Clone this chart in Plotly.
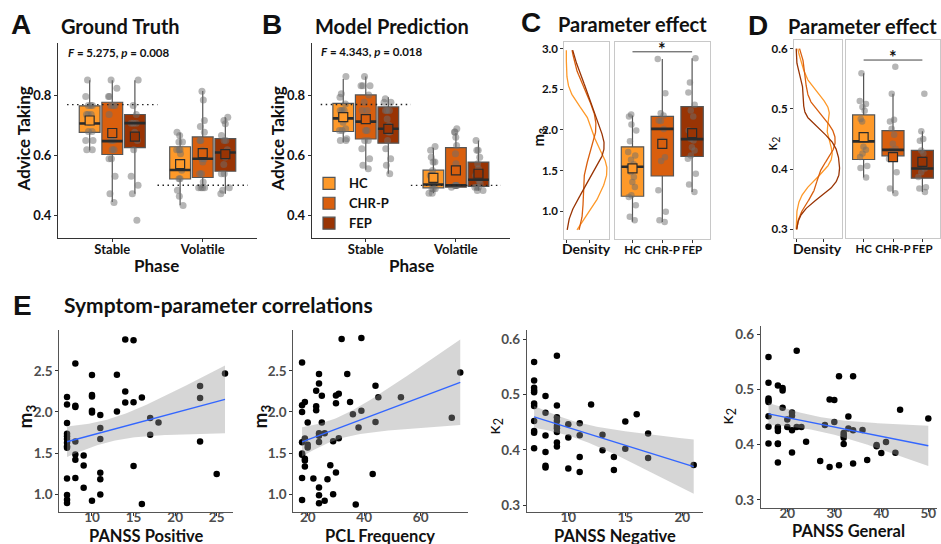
import numpy as np
import plotly.graph_objects as go

W, H = 941, 544
FONT = "Lato"
INK = "#111111"
AXC = "#333333"
BORDER = "#C8C8C8"

groups = ["HC", "CHR-P", "FEP"]
group_colors = ["#FE9929", "#D95F0E", "#993404"]
phases = ["Stable", "Volatile"]

# ---------------- Panel A: Ground Truth (per group: [Stable, Volatile]) ----------------
a_q1 = {"HC": [0.677, 0.521], "CHR-P": [0.603, 0.526], "FEP": [0.626, 0.547]}
a_median = {"HC": [0.707, 0.551], "CHR-P": [0.648, 0.589], "FEP": [0.708, 0.610]}
a_q3 = {"HC": [0.766, 0.629], "CHR-P": [0.778, 0.662], "FEP": [0.737, 0.656]}
a_low = {"HC": [0.617, 0.433], "CHR-P": [0.444, 0.491], "FEP": [0.472, 0.472]}
a_high = {"HC": [0.852, 0.676], "CHR-P": [0.852, 0.816], "FEP": [0.852, 0.728]}
a_mean = {"HC": [0.717, 0.571], "CHR-P": [0.675, 0.608], "FEP": [0.663, 0.604]}
a_points = {
    "HC": [[0.853, 0.797, 0.767, 0.767, 0.767, 0.737, 0.737, 0.737, 0.71, 0.68, 0.68, 0.65, 0.65, 0.619, 0.619],
           [0.678, 0.667, 0.645, 0.645, 0.619, 0.619, 0.619, 0.606, 0.55, 0.522, 0.522, 0.483, 0.463, 0.432]],
    "CHR-P": [[0.853, 0.825, 0.797, 0.797, 0.767, 0.767, 0.767, 0.737, 0.65, 0.65, 0.619, 0.619, 0.589, 0.589, 0.53, 0.472, 0.442],
              [0.815, 0.786, 0.717, 0.697, 0.678, 0.65, 0.65, 0.617, 0.589, 0.589, 0.578, 0.539, 0.539, 0.511, 0.492, 0.492, 0.492, 0.492]],
    "FEP": [[0.853, 0.767, 0.737, 0.708, 0.708, 0.708, 0.678, 0.65, 0.619, 0.53, 0.5, 0.472, 0.383],
            [0.728, 0.717, 0.706, 0.667, 0.65, 0.65, 0.619, 0.594, 0.57, 0.539, 0.539, 0.492, 0.483, 0.472]],
}
a_stat_text = "<i>F</i> = 5.275, <i>p</i> = 0.008"

# ---------------- Panel B: Model Prediction ----------------
b_q1 = {"HC": [0.680, 0.492], "CHR-P": [0.655, 0.494], "FEP": [0.641, 0.497]}
b_median = {"HC": [0.724, 0.503], "CHR-P": [0.713, 0.500], "FEP": [0.689, 0.519]}
b_q3 = {"HC": [0.774, 0.551], "CHR-P": [0.802, 0.626], "FEP": [0.762, 0.578]}
b_low = {"HC": [0.644, 0.474], "CHR-P": [0.552, 0.488], "FEP": [0.539, 0.483]}
b_high = {"HC": [0.855, 0.626], "CHR-P": [0.864, 0.675], "FEP": [0.794, 0.650]}
b_mean = {"HC": [0.728, 0.525], "CHR-P": [0.721, 0.550], "FEP": [0.689, 0.539]}
b_points = {
    "HC": [[0.864, 0.806, 0.794, 0.772, 0.75, 0.75, 0.75, 0.733, 0.722, 0.711, 0.689, 0.683, 0.683, 0.656, 0.65, 0.65],
           [0.63, 0.617, 0.594, 0.578, 0.578, 0.55, 0.533, 0.533, 0.506, 0.506, 0.489, 0.489, 0.489, 0.474, 0.474]],
    "CHR-P": [[0.864, 0.833, 0.833, 0.833, 0.802, 0.778, 0.75, 0.75, 0.717, 0.683, 0.683, 0.65, 0.65, 0.622, 0.589, 0.567, 0.556],
              [0.689, 0.678, 0.678, 0.661, 0.633, 0.606, 0.572, 0.55, 0.5, 0.5, 0.5, 0.5, 0.5, 0.494]],
    "FEP": [[0.789, 0.778, 0.778, 0.75, 0.75, 0.75, 0.722, 0.7, 0.678, 0.678, 0.65, 0.622, 0.589, 0.567, 0.539],
            [0.65, 0.617, 0.617, 0.594, 0.572, 0.556, 0.533, 0.533, 0.517, 0.506, 0.494, 0.494, 0.494, 0.483, 0.483]],
}
b_stat_text = "<i>F</i> = 4.343, <i>p</i> = 0.018"

# true reward probabilities per phase (dotted reference lines)
ref_levels = [0.77, 0.50]

# ---------------- Panel C: m3 per group ----------------
c_q1 = [1.184, 1.433, 1.673]
c_median = [1.547, 2.012, 1.886]
c_q3 = [1.792, 2.167, 2.286]
c_low = [0.870, 0.869, 1.237]
c_high = [2.176, 2.870, 2.882]
c_mean = [1.527, 1.829, 1.959]
c_points = {
    "HC": [2.188, 2.164, 2.065, 1.992, 1.861, 1.727, 1.686, 1.633, 1.576, 1.543, 1.482, 1.42, 1.359, 1.298, 1.196, 1.176, 1.074, 0.931, 0.89],
    "CHR-P": [2.87, 2.449, 2.204, 2.176, 2.114, 2.11, 2.012, 1.869, 1.665, 1.616, 1.257, 0.992, 0.89, 0.869],
    "FEP": [2.882, 2.584, 2.461, 2.31, 2.237, 2.164, 1.992, 1.89, 1.869, 1.788, 1.747, 1.686, 1.645, 1.461, 1.33, 1.237],
}
c_density_span = [0.77, 2.98]
c_sig = 2.96

# ---------------- Panel D: kappa2 per group ----------------
d_q1 = [0.416, 0.422, 0.385]
d_median = [0.446, 0.432, 0.401]
d_q3 = [0.490, 0.464, 0.431]
d_low = [0.386, 0.360, 0.362]
d_high = [0.559, 0.525, 0.463]
d_mean = [0.453, 0.420, 0.412]
d_points = {
    "HC": [0.559, 0.513, 0.508, 0.503, 0.497, 0.483, 0.479, 0.453, 0.437, 0.432, 0.426, 0.42, 0.405, 0.402, 0.386],
    "CHR-P": [0.57, 0.525, 0.482, 0.479, 0.467, 0.457, 0.442, 0.434, 0.431, 0.417, 0.395, 0.368, 0.36],
    "FEP": [0.525, 0.463, 0.45, 0.447, 0.431, 0.426, 0.413, 0.401, 0.395, 0.387, 0.37, 0.368, 0.362],
}
d_density_span = [0.30, 0.60]
d_sig = 0.581

# ---------------- Panel E: symptom-parameter correlations ----------------
e1_x = [7] * 13 + [8] * 7 + [9] * 3 + [10] * 6 + [11] * 6 + [13] * 2 + [14] * 3 + [15] * 3 + [16] * 2 + [17] * 2 + [18] + [23] * 3 + [25] + [26]
e1_y = [2.18, 2.09, 1.865, 1.736, 1.704, 1.672, 1.624, 1.583, 1.564, 1.19, 0.989, 0.932, 0.892,
        2.589, 2.074, 2.06, 1.64, 1.483, 1.42, 1.197,
        1.47, 1.35, 1.077,
        2.448, 2.207, 2.187, 2.014, 1.993, 0.92,
        1.962, 1.805, 1.672, 1.262, 1.182, 0.997,
        2.452, 2.005,
        2.88, 2.247, 2.114,
        2.87, 2.118, 1.342,
        2.174, 0.88,
        1.926, 1.724,
        1.873,
        2.315, 2.17, 1.64,
        1.245,
        2.468]

e2_x = [18, 18, 18, 18, 18, 18, 18, 18, 19, 19, 19, 19, 19, 20, 20, 20, 22, 23, 23, 23,
        24, 24, 24, 24, 24, 24, 24, 24, 25, 25, 26, 26, 27, 28, 29, 29, 30, 30, 30, 31, 31,
        32, 34, 35, 36, 38, 37, 39, 39, 43, 44, 44, 45, 53, 71, 74]
e2_y = [2.6, 2.08, 2.0, 1.63, 1.495, 1.48, 1.198, 0.93, 2.12, 1.678, 1.43, 1.41, 1.337, 1.872, 1.6, 1.568, 1.19, 2.257, 2.07, 2.02,
        2.46, 2.347, 1.742, 1.709, 1.636, 1.081, 0.988, 0.89, 2.196, 1.872, 1.742, 0.92, 1.183, 1.353, 1.645, 0.998, 2.107, 2.2, 1.264, 2.22, 1.68,
        2.886, 2.46, 2.12, 1.973, 1.811, 0.875, 2.9, 2.013, 1.247, 2.318, 1.878, 2.177, 2.177, 1.928, 2.48]

e3_x = [7] * 11 + [8] * 6 + [9] * 9 + [10] * 3 + [11] * 4 + [12] + [13] * 2 + [14] * 2 + [15] * 2 + [16] + [17] * 2 + [21]
e3_y = [0.5586, 0.525, 0.512, 0.507, 0.504, 0.4835, 0.479, 0.452, 0.434, 0.431, 0.403,
        0.497, 0.467, 0.426, 0.396, 0.371, 0.368,
        0.57, 0.48, 0.459, 0.452, 0.443, 0.439, 0.432, 0.413, 0.406,
        0.446, 0.422, 0.366,
        0.448, 0.4265, 0.387, 0.36,
        0.482,
        0.427, 0.399,
        0.387, 0.3635,
        0.451, 0.402,
        0.464,
        0.4296, 0.385,
        0.3725]

e4_x = [16] * 8 + [18] * 7 + [19] * 3 + [20] * 2 + [21] * 4 + [22] * 2 + [23] + [24] + [27] + [28] + [29] * 2 + [30] * 2 + [31] * 2 + [32] * 4 + [33] * 2 + [34] * 3 + [36] + [37] + [39] * 2 + [40] + [41] + [43] + [44] + [50]
e4_y = [0.5585, 0.5117, 0.4834, 0.48, 0.477, 0.4515, 0.4323, 0.4022,
        0.5068, 0.432, 0.429, 0.4245, 0.402, 0.401, 0.3674,
        0.5026, 0.498, 0.4666,
        0.4455, 0.432,
        0.458, 0.452, 0.426, 0.3855,
        0.57, 0.432,
        0.432,
        0.4053,
        0.3703,
        0.4353,
        0.4816, 0.3596,
        0.4805, 0.4407,
        0.5236, 0.3626,
        0.421, 0.4167, 0.4125, 0.401,
        0.4508, 0.429,
        0.5236, 0.426, 0.3657,
        0.4264,
        0.3722,
        0.3993, 0.397,
        0.3847,
        0.4046,
        0.3853,
        0.463,
        0.4473]

e_xlabels = ["PANSS Positive", "PCL Frequency", "PANSS Negative", "PANSS General"]
e_ylabels = ["m<sub>3</sub>", "m<sub>3</sub>", "κ<sub>2</sub>", "κ<sub>2</sub>"]


# ---------------- helpers ----------------
def xd(p0, p1):
    return [p0 / W, p1 / W]


def yd(top, bottom):
    return [1 - bottom / H, 1 - top / H]


def px(x):
    return x / W


def py(y):
    return 1 - y / H


fig = go.Figure()

BOX_LINE = "#555555"
MED_LINE = "#2b2b2b"
PT_COLOR = "rgba(110,110,110,0.5)"


def add_boxes(xa, ya, pos, q1, med, q3, lo, hi, pts, color, name, width, legend, msize, jitter):
    fig.add_trace(go.Box(
        x=pos, q1=q1, median=med, q3=q3, lowerfence=lo, upperfence=hi,
        width=width, fillcolor=color, line=dict(color=BOX_LINE, width=1.2),
        whiskerwidth=0, boxpoints=False, name=name, legendgroup=name,
        showlegend=legend, xaxis=xa, yaxis=ya, hoverinfo="skip"))
    # median bar drawn thicker
    mx, my = [], []
    for p, m in zip(pos, med):
        mx += [p - width / 2, p + width / 2, None]
        my += [m, m, None]
    fig.add_trace(go.Scatter(x=mx, y=my, mode="lines", line=dict(color=MED_LINE, width=2.6),
                             showlegend=False, xaxis=xa, yaxis=ya, hoverinfo="skip"))
    # jittered raw points
    px_all, py_all = [], []
    for p, vals in zip(pos, pts):
        px_all += [p] * len(vals)
        py_all += list(vals)
    fig.add_trace(go.Box(
        x=px_all, y=py_all, width=width, boxpoints="all", jitter=jitter, pointpos=0,
        fillcolor="rgba(0,0,0,0)", line=dict(color="rgba(0,0,0,0)", width=0),
        whiskerwidth=0, marker=dict(color=PT_COLOR, size=msize, line=dict(width=0)),
        showlegend=False, xaxis=xa, yaxis=ya, hoverinfo="skip"))


mean_traces = []
dodge = 0.25
bw_ab = 0.23
for panel, (xa, ya, q1, med, q3, lo, hi, mean, pts) in enumerate([
        ("x", "y", a_q1, a_median, a_q3, a_low, a_high, a_mean, a_points),
        ("x2", "y2", b_q1, b_median, b_q3, b_low, b_high, b_mean, b_points)]):
    for gi, g in enumerate(groups):
        pos = [k + 1 + (gi - 1) * dodge for k in range(len(phases))]
        add_boxes(xa, ya, pos, q1[g], med[g], q3[g], lo[g], hi[g], pts[g],
                  group_colors[gi], g, bw_ab, panel == 1, 7, 0.5)
        mean_traces.append((xa, ya, pos, mean[g], group_colors[gi]))
    # dotted reference lines, one per phase
    rx, ry = [], []
    for k, lvl in enumerate(ref_levels):
        rx += [k + 0.5, k + 1.5, None]
        ry += [lvl, lvl, None]
    fig.add_trace(go.Scatter(x=rx, y=ry, mode="lines", line=dict(color="#222222", width=1.4, dash="1.5px,3.5px"),
                             showlegend=False, xaxis=xa, yaxis=ya, hoverinfo="skip"))

bw_cd = 0.75
for (xa, ya, q1, med, q3, lo, hi, mean, pts) in [
        ("x4", "y4", c_q1, c_median, c_q3, c_low, c_high, c_mean, c_points),
        ("x6", "y6", d_q1, d_median, d_q3, d_low, d_high, d_mean, d_points)]:
    for gi, g in enumerate(groups):
        pos = [gi + 1]
        add_boxes(xa, ya, pos, [q1[gi]], [med[gi]], [q3[gi]], [lo[gi]], [hi[gi]], [pts[g]],
                  group_colors[gi], g, bw_cd, False, 6.5, 0.45)
        mean_traces.append((xa, ya, pos, [mean[gi]], group_colors[gi]))

for xa, ya, pos, m, col in mean_traces:
    fig.add_trace(go.Scatter(x=pos, y=m, mode="markers",
                             marker=dict(symbol="square", size=9, color=col, line=dict(color="#2b2b2b", width=1.2)),
                             showlegend=False, xaxis=xa, yaxis=ya, hoverinfo="skip"))

# significance bars
for xa, ya, lvl in [("x4", "y4", c_sig), ("x6", "y6", d_sig)]:
    fig.add_trace(go.Scatter(x=[1, 3], y=[lvl, lvl], mode="lines", line=dict(color="#444444", width=1),
                             showlegend=False, xaxis=xa, yaxis=ya, hoverinfo="skip"))


# marginal densities: gaussian kernel density (bw.nrd0), like ggplot2 geom_density
def nrd0(v):
    v = np.asarray(v, float)
    sd = v.std(ddof=1)
    iqr = np.subtract(*np.percentile(v, [75, 25]))
    return 0.9 * min(sd, iqr / 1.34) * len(v) ** -0.2


def kde(v, span, n=256):
    v = np.asarray(v, float)
    grid = np.linspace(span[0], span[1], n)
    bw = nrd0(v)
    z = (grid[:, None] - v[None, :]) / bw
    dens = np.exp(-0.5 * z ** 2).sum(axis=1) / (len(v) * bw * np.sqrt(2 * np.pi))
    return grid, dens


dens_max = {}
for xa, ya, pts, span, key in [("x3", "y3", c_points, c_density_span, "c"),
                               ("x5", "y5", d_points, d_density_span, "d")]:
    m = 0
    for gi, g in enumerate(groups):
        grid, dens = kde(pts[g], span)
        m = max(m, dens.max())
        fig.add_trace(go.Scatter(x=dens, y=grid, mode="lines", line=dict(color=group_colors[gi], width=1.3),
                                 showlegend=False, xaxis=xa, yaxis=ya, hoverinfo="skip"))
    dens_max[key] = m


# correlations with linear fit + 95% CI
def tq975(df):
    try:
        from scipy import stats
        return float(stats.t.ppf(0.975, df))
    except Exception:
        return 2.01


def lm_band(x, y, n=80):
    x = np.asarray(x, float)
    y = np.asarray(y, float)
    b1, b0 = np.polyfit(x, y, 1)
    xs = np.linspace(x.min(), x.max(), n)
    yh = b0 + b1 * xs
    res = y - (b0 + b1 * x)
    N = len(x)
    s = np.sqrt((res ** 2).sum() / (N - 2))
    se = s * np.sqrt(1 / N + (xs - x.mean()) ** 2 / ((x - x.mean()) ** 2).sum())
    t = tq975(N - 2)
    return xs, yh, yh - t * se, yh + t * se


for k, (ex, ey) in enumerate([(e1_x, e1_y), (e2_x, e2_y), (e3_x, e3_y), (e4_x, e4_y)]):
    xa, ya = f"x{7 + k}", f"y{7 + k}"
    fig.add_trace(go.Scatter(x=ex, y=ey, mode="markers", marker=dict(color="black", size=6.5),
                             showlegend=False, xaxis=xa, yaxis=ya, hoverinfo="skip"))
    xs, yh, lo, hi = lm_band(ex, ey)
    fig.add_trace(go.Scatter(x=list(xs) + list(xs[::-1]), y=list(hi) + list(lo[::-1]), mode="lines",
                             fill="toself", fillcolor="rgba(153,153,153,0.4)", line=dict(width=0),
                             showlegend=False, xaxis=xa, yaxis=ya, hoverinfo="skip"))
    fig.add_trace(go.Scatter(x=xs, y=yh, mode="lines", line=dict(color="#3366FF", width=1.4),
                             showlegend=False, xaxis=xa, yaxis=ya, hoverinfo="skip"))


# ---------------- axes ----------------
def tf(size, color=INK):
    return dict(family=FONT, size=size, color=color, weight="bold")


def base_axis(**kw):
    d = dict(showgrid=False, zeroline=False, showline=True, linecolor=AXC, linewidth=1,
             ticks="outside", ticklen=3, tickcolor=AXC, tickwidth=1, tickangle=0)
    d.update(kw)
    return d


layout_axes = {}
# A and B
for i, (xdom, ydom) in enumerate([(xd(58, 257), yd(42, 238)), (xd(311.7, 510), yd(41.7, 238.3))]):
    sx = "" if i == 0 else "2"
    layout_axes["xaxis" + sx] = base_axis(domain=xdom, range=[0.4, 2.6], tickvals=[1, 2], ticktext=phases,
                                          tickfont=tf(13), ticklabelstandoff=-4, anchor="y" + sx)
    layout_axes["yaxis" + sx] = base_axis(domain=ydom, range=[0.323, 0.977], tickvals=[0.4, 0.6, 0.8],
                                          tickformat=".1f", tickfont=tf(13), anchor="x" + sx)

# C and D
for dens_x, box_x, ydom, yr, yt, key, ddt, nx in [
        (xd(564.3, 609), xd(614.6, 710), yd(40.7, 239), [0.657, 3.086], [1.0, 1.5, 2.0, 2.5, 3.0], "c", 0.5, 3),
        (xd(794, 841.7), xd(846, 940), yd(39.3, 237.7), [0.286, 0.614], [0.3, 0.4, 0.5, 0.6], "d", 5, 5)]:
    sd, sb = str(nx), str(nx + 1)
    m = dens_max[key]
    layout_axes["xaxis" + sd] = base_axis(domain=dens_x, range=[-0.05 * m, 1.05 * m], tick0=0, dtick=ddt,
                                          showticklabels=False, mirror=True, linecolor=BORDER, anchor="y" + sd)
    layout_axes["yaxis" + sd] = base_axis(domain=ydom, range=yr, tickvals=yt, tickformat=".1f",
                                          tickfont=tf(11.5), mirror=True, linecolor=BORDER, anchor="x" + sd)
    layout_axes["xaxis" + sb] = base_axis(domain=box_x, range=[0.4, 3.6], tickvals=[1, 2, 3], ticktext=groups,
                                          tickfont=tf(11.5), ticklabelstandoff=-3, mirror=True, linecolor=BORDER,
                                          anchor="y" + sb)
    layout_axes["yaxis" + sb] = base_axis(domain=ydom, range=yr, showticklabels=False, ticks="",
                                          mirror=True, linecolor=BORDER, anchor="x" + sb)

# E
e_specs = [
    (xd(59.3, 233), yd(330.7, 512.7), [6.07, 26.96], [10, 15, 20, 25], [0.786, 2.99], [1.0, 1.5, 2.0, 2.5]),
    (xd(293.3, 468.3), yd(330.7, 512.7), [14.9, 76.85], [20, 40, 60], [0.786, 2.99], [1.0, 1.5, 2.0, 2.5]),
    (xd(526.7, 702.7), yd(330.7, 512.7), [6.35, 21.79], [10, 15, 20], [0.288, 0.6155], [0.3, 0.4, 0.5, 0.6]),
    (xd(760.7, 936.7), yd(326.7, 508.7), [14.34, 51.79], [20, 30, 40, 50], [0.2856, 0.6137], [0.3, 0.4, 0.5, 0.6]),
]
for k, (xdom, ydom, xr, xt, yr, yt) in enumerate(e_specs):
    s = str(7 + k)
    layout_axes["xaxis" + s] = base_axis(domain=xdom, range=xr, tickvals=xt, tickfont=tf(13.5, "#4D4D4D"),
                                         ticklabelstandoff=-10, linecolor="#555555", anchor="y" + s)
    layout_axes["yaxis" + s] = base_axis(domain=ydom, range=yr, tickvals=yt, tickformat=".1f",
                                         tickfont=tf(13.5, "#4D4D4D"), linecolor="#555555", anchor="x" + s)

# ---------------- text ----------------
ann = []


def text(t, x, y, size, bold=True, angle=0, xanchor="center", family=FONT, color=INK):
    ann.append(dict(text=t, x=px(x), y=py(y), xref="paper", yref="paper", showarrow=False,
                    xanchor=xanchor, yanchor="middle", textangle=angle,
                    font=dict(family=family, size=size, color=color, weight="bold" if bold else "normal")))


LETTER_FONT = "Liberation Sans"
text("A", 21, 24, 28, family=LETTER_FONT)
text("B", 272, 24, 28, family=LETTER_FONT)
text("C", 531, 22, 28, family=LETTER_FONT)
text("D", 758, 25, 28, family=LETTER_FONT)
text("E", 22, 306, 28, family=LETTER_FONT)

text("Ground Truth", 59, 25, 20, xanchor="left")
text("Model Prediction", 313, 25, 20, xanchor="left")
text("Parameter effect", 556, 23, 20, xanchor="left")
text("Parameter effect", 786, 25, 20, xanchor="left")
text("Symptom-parameter correlations", 62, 305, 21, xanchor="left")

text(a_stat_text, 66, 52, 11.5, xanchor="left")
text(b_stat_text, 319, 51, 11.5, xanchor="left")

text("Advice Taking", 23, 139, 17, angle=-90)
text("Advice Taking", 277, 139, 17, angle=-90)
text("Phase", 156, 265, 17)
text("Phase", 411, 265, 17)

text("m<sub>3</sub>", 539, 137, 15, angle=-90)
text("κ<sub>2</sub>", 772, 143, 15, bold=False, angle=-90)
text("Density", 586, 248, 14)
text("Density", 817, 248, 14)

e_ytitle_pos = [(26, 417), (261, 417), (494, 427), (727, 417)]
e_xtitle_pos = [(146, 537), (380, 537), (615, 537), (848, 532)]
for k in range(4):
    bold = k < 2
    text(e_ylabels[k], e_ytitle_pos[k][0], e_ytitle_pos[k][1], 19 if bold else 18, bold=bold, angle=-90)
    text(e_xlabels[k], e_xtitle_pos[k][0], e_xtitle_pos[k][1], 16.5)

for xa, ya, lvl in [("x4", "y4", c_sig), ("x6", "y6", d_sig)]:
    ann.append(dict(text="*", x=2, y=lvl, xref=xa, yref=ya, showarrow=False, yanchor="bottom",
                    yshift=-10, font=dict(family=FONT, size=18, color=INK, weight="bold")))

fig.update_layout(
    width=W, height=H, margin=dict(l=0, r=0, t=0, b=0),
    paper_bgcolor="white", plot_bgcolor="white",
    boxmode="overlay",
    font=dict(family=FONT, color=INK),
    annotations=ann,
    legend=dict(x=px(309), y=py(168), xanchor="left", yanchor="top", bgcolor="rgba(0,0,0,0)",
                font=dict(family=FONT, size=13, color=INK, weight="bold"), tracegroupgap=0,
                itemwidth=30),
    showlegend=True,
    **layout_axes,
)

fig.write_html("out.html", config={"displayModeBar": False},
               post_script="document.body.style.margin='0';document.body.style.overflow='hidden';")
